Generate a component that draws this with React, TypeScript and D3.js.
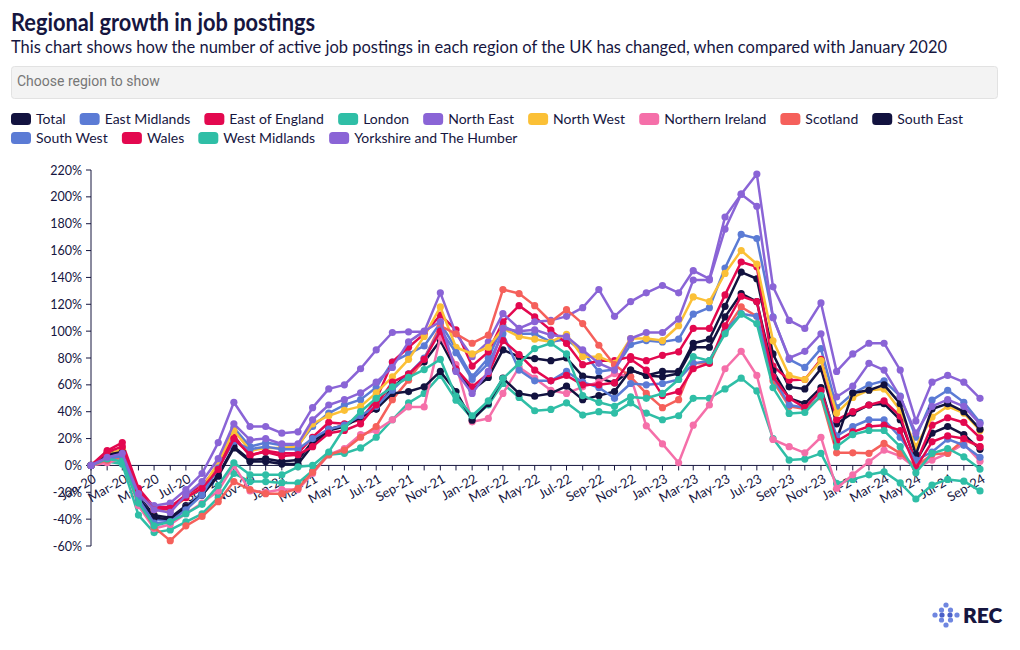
import React, { useMemo } from "react";
import * as d3 from "d3";

const monthLabels = [
  "Jan-20","Feb-20","Mar-20","Apr-20","May-20","Jun-20","Jul-20","Aug-20","Sep-20","Oct-20","Nov-20","Dec-20",
  "Jan-21","Feb-21","Mar-21","Apr-21","May-21","Jun-21","Jul-21","Aug-21","Sep-21","Oct-21","Nov-21","Dec-21",
  "Jan-22","Feb-22","Mar-22","Apr-22","May-22","Jun-22","Jul-22","Aug-22","Sep-22","Oct-22","Nov-22","Dec-22",
  "Jan-23","Feb-23","Mar-23","Apr-23","May-23","Jun-23","Jul-23","Aug-23","Sep-23","Oct-23","Nov-23","Dec-23",
  "Jan-24","Feb-24","Mar-24","Apr-24","May-24","Jun-24","Jul-24","Aug-24","Sep-24",
];

const yTicks = [-60, -40, -20, 0, 20, 40, 60, 80, 100, 120, 140, 160, 180, 200, 220];

const total = [0,9,11,-23,-37,-39,-30,-22,-7,14,4,5,3,4,18,27,30,37,42,58,68,77,
  93,71,56,65.5,86,81,79.6,78,80,66.5,65,61.5,71,67,70,70,91,94,118.5,144,139,83,58.5,57,72,31,39,45,46,34,3,24,29,23,12];
const eastMidlands = [0,6,8,-23,-40,-41,-31,-20,0,28,14,17,15,15,29,39,45,49,58,77,83,89,
  106,87,66,80,104,98,98,92,94,84.6,70,71.4,90,93,92,94,112.6,117.5,147,172,169,110.6,79,73,87,43,53.6,60,63,51.6,21,48.6,56,47,32];
const eastOfEngland = [0,11,17,-17,-31,-31,-22,-15,-1,22,7,11,9,9,21,32,31,34,49,77,88,98,
  112,101,74,84.6,107,119,110.6,100.7,90.8,75,78,78,81,78,82,84.6,102,102,127,151.5,148,74,63.5,64,79,34,40,45,48,36.7,1.5,30,35.5,32,20.6];
const london = [0,3,1,-37,-50,-48,-42,-36,-24,-6,-12,-12,-13,-13,-4,8,9,13,21,34,46.6,53.6,
  67,48.6,35,45,61,50.6,40.7,41.7,46.6,37.5,40,39,46.6,39,34,37,50,50,57,65,55.5,20,4,4.7,9,-13.4,-10.4,-7,-4.7,-13,-25,-14.6,-10.4,-11.7,-19];
const northEast = [0,7,10,-22,-30,-28,-18,-6,17,47,29,29,24,25,43,57,60,72,86,99,99.5,99.5,
  128.5,98,81,92,113,102,107,108,111,117.5,131,111,122,128.5,134,128.5,145,139,185,202,217,133,108,102,121,70,83,91,91,71,33,62,67,62,50];
const northWest = [0,8,12,-20,-33,-33,-24,-17,2,26,11,13,13,14,31,37,41,44,54,66,79,96,
  118,88,83,88,102,96,94,92,97.7,81,81,76,94.5,94.5,93,104,125.5,122,143,160,150,92.8,67,64,78,39,50.6,56,57,41,14,36,44,39,26];
const northernIreland = [0,2,5,-30,-47,-44,-36,-28,-19,0,-19,-20,-18,-18,-6,8,12.6,23,26,34,43.6,43.6,
  95.7,75,32.5,35,53.6,73,65,56,53.6,58.5,62,68.4,66,29.5,16,2,30,45,72,85,67,19.3,14,9.4,21,-17,-7,2.7,11.4,7,-2,4,9,16,3.2];
const scotland = [0,4,6,-27,-46,-56,-45,-38,-27,-12,-18,-21,-21,-17,-5,8,11.4,21,29,49,63.5,79.6,
  104,98,91,97,131,128,119,107,116,105.6,89.5,75,66,53.6,43,49,76,76,100,118,111,63,44,42,51,9.4,9.4,9,16.4,9,-1,8.4,9,19,14];
const southEast = [0,8,10,-24,-39,-40,-31,-22,-8,13,3,3,1,1,15,26,29,36,42,53.6,55,58.5,
  70,55,33.7,46,65,53.6,51.6,53.6,59,49,52,55,71,67,66,68.5,88,88,110.6,128,122,70.4,50,46,58,19,54,56,60,46,8,42,46,40,27];
const southWest = [0,5,7,-25,-43,-42,-33,-22,-2,18,12,14,12,12,20,27,30,37,44,56,68,80,
  101,84,64,76,98,71,63,63,70,62,58,50,61,60,61,64,76,78,100,113,111,66,45,43,55,22,29,34,34,21,4,10,19.6,15,6];
const wales = [0,10,14,-19,-33,-32,-24,-17,-3,20,8,10,7,8,14,24,26,31,45,62,68,79,
  100,72,58.5,68.4,93,82.6,71,63,67,60,60,61.5,79,71,52,55,72,76,104,126,122,66,50,43,56,18,25,29,30,26,-2,17.6,22,20,14];
const westMidlands = [0,5,3,-28,-45,-42,-36,-29,-15,2,-7,-7,-7,-1,0,10,28,40,50,58.5,65.5,71.4,
  79,51.6,37,48,64.7,76,87,91,83,52,47,44,51,50,53.6,64,81,78,98,112.6,105.6,58,38.7,39.4,52,14,23,26,26,14,-5.5,9,12.6,6.4,-2.7];
const yorkshire = [0,6,9,-21,-33,-35,-22,-12,5,31,19,20,16,16,34,45,49,54,62,73,92,100,
  107,70,53.6,70,102,100,101,97,96,86,76,71,94.5,99,99,109,138,138,176,202,193,110,80,85,98,51,59,76,71,51,24,44,49,44,31];

const seriesNames = ["Total","East Midlands","East of England","London","North East","North West","Northern Ireland","Scotland","South East","South West","Wales","West Midlands","Yorkshire and The Humber"];
const seriesValues = [total, eastMidlands, eastOfEngland, london, northEast, northWest, northernIreland, scotland, southEast, southWest, wales, westMidlands, yorkshire];

const NAVY = "#12123f";
const BLUE = "#5b7bd5";
const CRIMSON = "#e3084f";
const TEAL = "#2fbea6";
const PURPLE = "#8a64d6";
const YELLOW = "#fbc036";
const PINK = "#f56fa9";
const CORAL = "#f5605b";
const seriesColors = [NAVY, BLUE, CRIMSON, TEAL, PURPLE, YELLOW, PINK, CORAL, NAVY, BLUE, CRIMSON, TEAL, PURPLE];

const TEXT = "#16163f";
const FONT = "Lato, 'Open Sans', sans-serif";

function measure(text: string, font: string): number {
  const c = document.createElement("canvas").getContext("2d");
  if (!c) return text.length * 7;
  c.font = font;
  return c.measureText(text).width;
}

export default function App() {
  const parse = d3.timeParse("%b-%y");
  const dates = monthLabels.map((m) => parse(m) as Date);
  const x = d3.scaleTime().domain([dates[0], dates[dates.length - 1]]).range([91, 980]);
  const y = d3.scaleLinear().domain([-60, 220]).range([546, 170]);
  const line = d3.line<number>().x((_, i) => x(dates[i])).y((d) => y(d));

  const legend = useMemo(() => {
    const items: { name: string; color: string; x: number; y: number }[] = [];
    let cx = 11;
    let cy = 119;
    seriesNames.forEach((name, i) => {
      const w = 25 + measure(name, `14px ${FONT}`);
      if (cx + w > 1005) {
        cx = 11;
        cy += 19;
      }
      items.push({ name, color: seriesColors[i], x: cx, y: cy });
      cx += w + 14;
    });
    return items;
  }, []);

  const y0 = y(0);
  const logoDots: [number, number][] = [
    [0, -10], [-4.5, -5], [4.5, -5], [-11, 0], [-4, 0], [4, 0], [11, 0], [-4.5, 5], [4.5, 5], [0, 10],
  ];

  return (
    <svg width={1020} height={650} style={{ position: "absolute", left: 0, top: 0, background: "#fff" }} fontFamily={FONT}>
      <text x={11} y={31} fontSize={24} fontWeight={700} fill={TEXT} textLength={304} lengthAdjust="spacingAndGlyphs">Regional growth in job postings</text>
      <text x={11} y={53} fontSize={17} fill={TEXT} textLength={936} lengthAdjust="spacingAndGlyphs">This chart shows how the number of active job postings in each region of the UK has changed, when compared with January 2020</text>

      <rect x={11.5} y={66.5} width={986} height={32} rx={3} fill="#f3f3f3" stroke="#e2e2e2" />
      <text x={17} y={86} fontSize={14} fill="#777" fontFamily="Roboto, sans-serif">Choose region to show</text>

      {legend.map((it) => (
        <g key={it.name}>
          <rect x={it.x} y={it.y - 6} width={20} height={12} rx={3.5} fill={it.color} />
          <text x={it.x + 25} y={it.y + 5} fontSize={14} fill={TEXT}>{it.name}</text>
        </g>
      ))}

      {/* y axis */}
      <line x1={91} x2={91} y1={y(220)} y2={y(-60)} stroke={TEXT} strokeWidth={1} />
      {yTicks.map((t) => (
        <g key={t}>
          <line x1={86} x2={91} y1={y(t)} y2={y(t)} stroke={TEXT} />
          <text x={82} y={y(t) + 4.5} fontSize={12.5} textAnchor="end" fill={TEXT}>{t}%</text>
        </g>
      ))}

      {/* x axis */}
      <line x1={91} x2={981} y1={y0} y2={y0} stroke={TEXT} strokeWidth={1} />
      {dates.map((d, i) => (
        <line key={i} x1={x(d)} x2={x(d)} y1={y0} y2={y0 + 5} stroke={TEXT} />
      ))}
      {dates.map((d, i) =>
        i % 2 === 0 ? (
          <text key={"l" + i} transform={`translate(${x(d) + 6},${y0 + 16}) rotate(-30)`} fontSize={13} textAnchor="end" fill={TEXT}>
            {monthLabels[i]}
          </text>
        ) : null
      )}

      {seriesValues.map((vals, si) => (
        <g key={seriesNames[si]}>
          <path d={line(vals) || ""} fill="none" stroke={seriesColors[si]} strokeWidth={2.5} strokeLinejoin="round" />
          {vals.map((v, i) => (
            <circle key={i} cx={x(dates[i])} cy={y(v)} r={3.6} fill={seriesColors[si]} />
          ))}
        </g>
      ))}

      {/* logo */}
      <g transform="translate(946,615)">
        {logoDots.map(([dx, dy], i) => (
          <circle key={i} cx={dx} cy={dy} r={2.6} fill={i === 4 || i === 5 ? "#4a5fc8" : "#6f86e0"} />
        ))}
      </g>
      <text x={963} y={623} fontSize={21} fontWeight={800} fill={TEXT}>REC</text>
    </svg>
  );
}
